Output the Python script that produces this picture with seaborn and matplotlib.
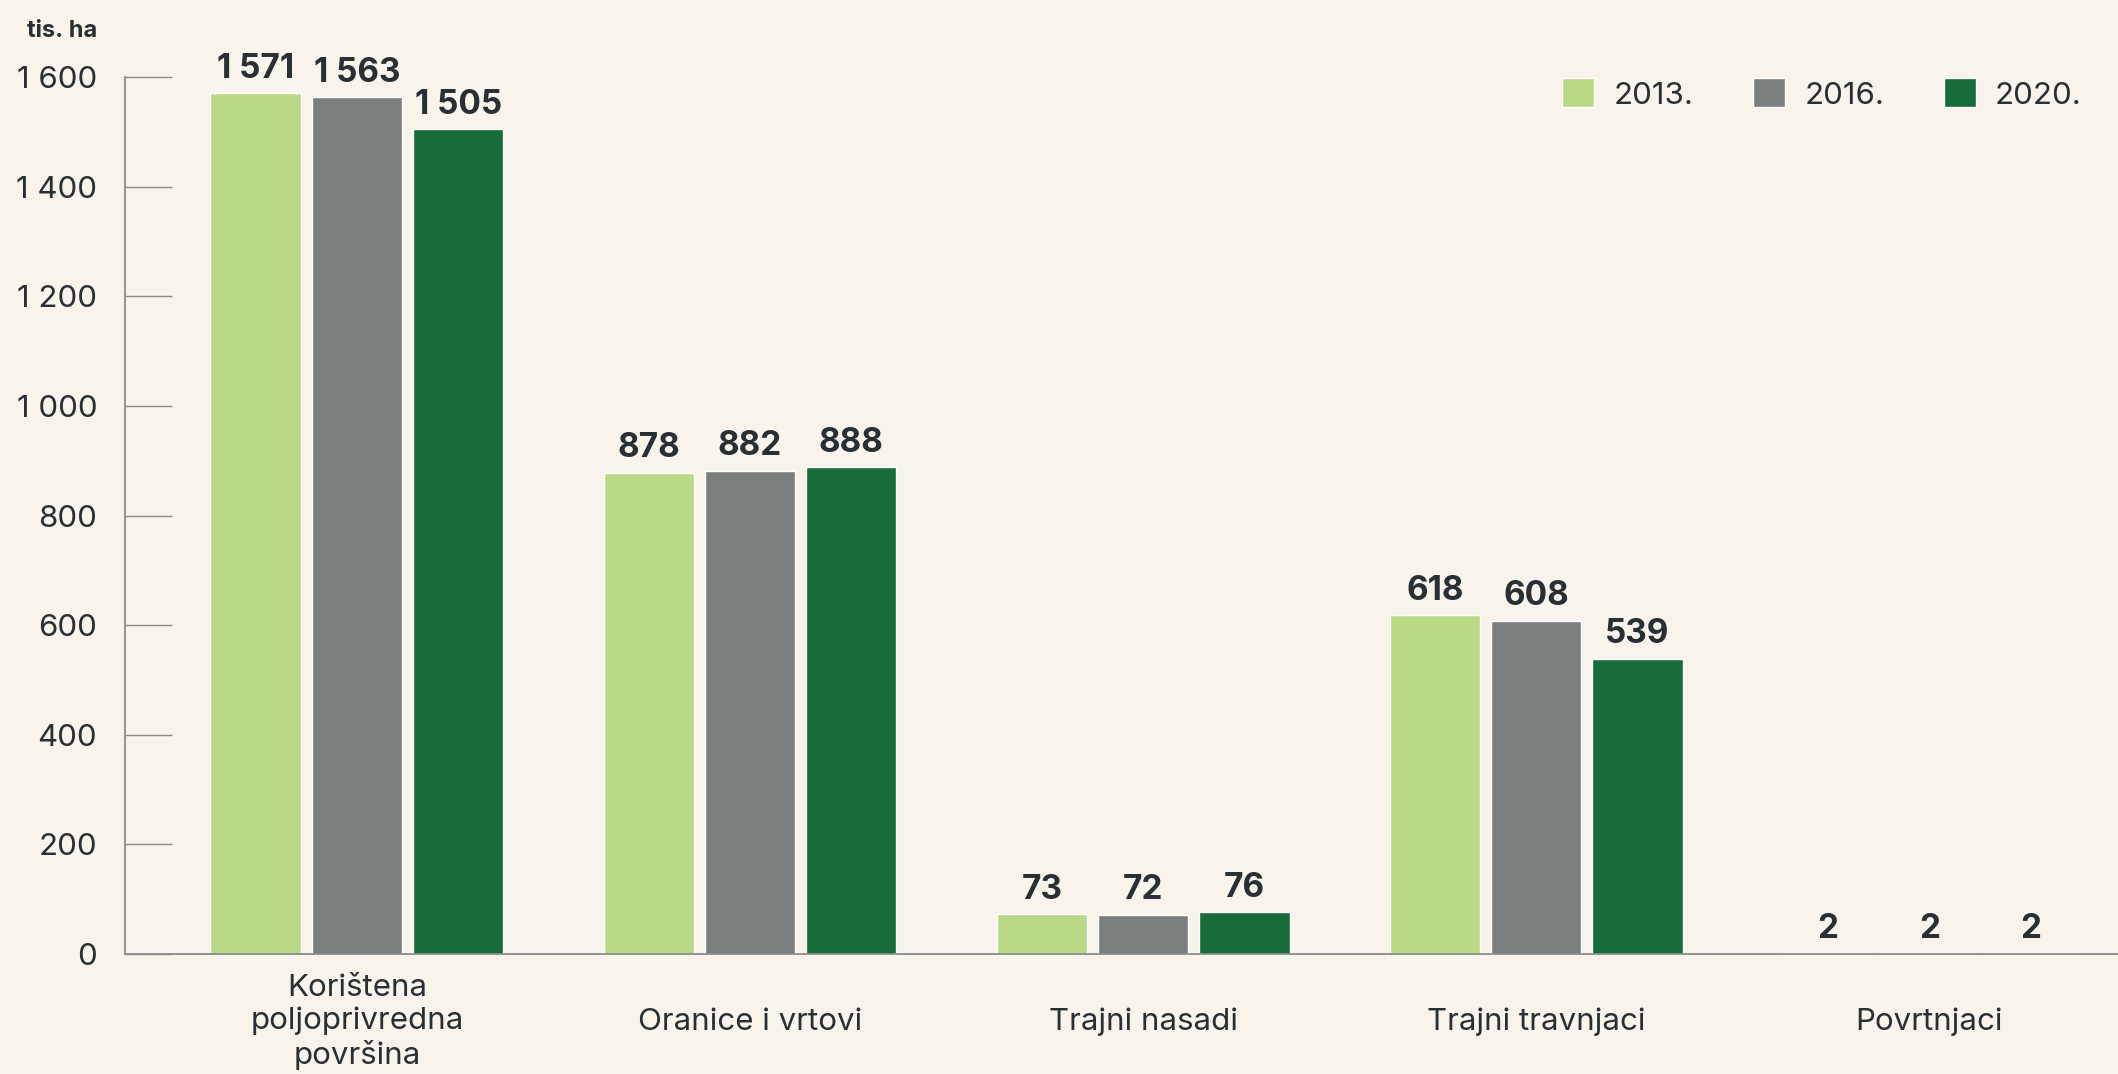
import pandas as pd
import seaborn as sns
import matplotlib.pyplot as plt

# values in thousand hectares
categories = ["Korištena\npoljoprivredna\npovršina", "Oranice i vrtovi",
              "Trajni nasadi", "Trajni travnjaci", "Povrtnjaci"]
years = ["2013.", "2016.", "2020."]
vals_2013 = [1571, 878, 73, 618, 2]
vals_2016 = [1563, 882, 72, 608, 2]
vals_2020 = [1505, 888, 76, 539, 2]
y_ticks = [0, 200, 400, 600, 800, 1000, 1200, 1400, 1600]

colors = ["#BAD987", "#7B7E7E", "#166B39"]
bg = "#F8F4EC"
ink = "#283035"

df = pd.DataFrame({
    "Kategorija": categories * 3,
    "Godina": [years[0]] * 5 + [years[1]] * 5 + [years[2]] * 5,
    "Vrijednost": vals_2013 + vals_2016 + vals_2020,
})

sns.set_style("white")
plt.rcParams["font.family"] = ["Inter", "DejaVu Sans"]

fig = plt.figure(figsize=(21.18, 10.74), dpi=100, facecolor=bg)
ax = fig.add_axes([0.059, 0.1117, 0.941, 0.8166])
ax.set_facecolor(bg)

sns.barplot(data=df, x="Kategorija", y="Vrijednost", hue="Godina",
            palette=colors, width=0.773, gap=0.108, saturation=1,
            ax=ax)

def fmt(v):
    return f"{v:,.0f}".replace(",", " ")

for cont in ax.containers:
    ax.bar_label(cont, labels=[fmt(v) for v in cont.datavalues],
                 padding=6, fontsize=24, fontweight="bold", color=ink,
                 clip_on=False)

ax.set_ylim(0, 1600)
ax.set_xlim(-0.59, 4.48)
ax.set_yticks(y_ticks)
ax.set_yticklabels([fmt(v) for v in y_ticks])
ax.tick_params(axis="y", left=True, direction="in", length=34, width=1,
               color="#8A8C8C", labelsize=22.5, labelcolor=ink, pad=20)
ax.tick_params(axis="x", bottom=False, length=0, labelsize=22.5,
               labelcolor=ink, pad=49)
for lab in ax.get_xticklabels():
    lab.set_linespacing(1.2)
    lab.set_verticalalignment("center")

for side in ["top", "right"]:
    ax.spines[side].set_visible(False)
for side in ["left", "bottom"]:
    ax.spines[side].set_color("#8A8C8C")
    ax.spines[side].set_linewidth(1.3)

ax.set_xlabel("")
ax.set_ylabel("")
fig.text(0.0128, 0.981, "tis. ha", fontsize=17, fontweight="bold",
         color=ink, ha="left", va="top")

ax.legend(loc="center right", bbox_to_anchor=(0.983, 0.9125),
          bbox_transform=fig.transFigure, ncol=3, frameon=False,
          fontsize=22.5, labelcolor=ink, handlelength=1.05, handleheight=1.05,
          handletextpad=0.6, columnspacing=1.9, borderaxespad=0,
          borderpad=0)

fig.savefig("out.png", dpi=100, facecolor=bg)
